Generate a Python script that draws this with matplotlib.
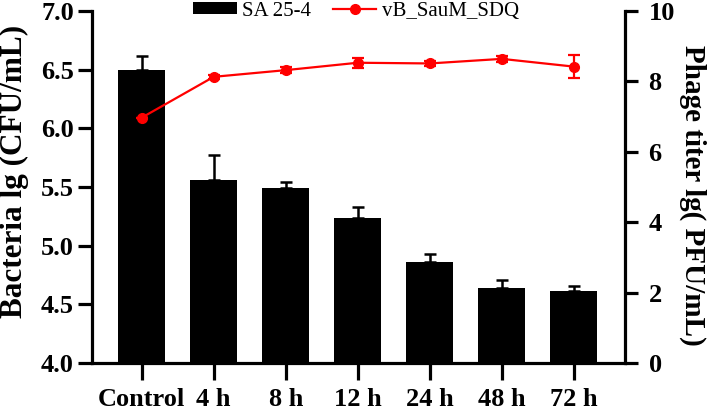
import matplotlib
matplotlib.use("Agg")
import matplotlib.pyplot as plt
from matplotlib.lines import Line2D
import numpy as np

categories = ["Control", "4 h", "8 h", "12 h", "24 h", "48 h", "72 h"]
bacteria = [6.50, 5.56, 5.49, 5.24, 4.86, 4.64, 4.61]
bacteria_err = [0.12, 0.21, 0.05, 0.09, 0.07, 0.07, 0.05]
phage = [6.97, 8.13, 8.32, 8.53, 8.51, 8.64, 8.42]
phage_err = [0.0, 0.05, 0.08, 0.14, 0.06, 0.08, 0.32]
left_ticks = [4.0, 4.5, 5.0, 5.5, 6.0, 6.5, 7.0]
right_ticks = [0, 2, 4, 6, 8, 10]

plt.rcParams['font.family'] = ['Liberation Serif', 'DejaVu Serif']

fig = plt.figure(figsize=(7.09, 4.11), dpi=100)
ax = fig.add_axes([92/709, 1-363/411, (625-92)/709, (363-11)/411])
x = np.arange(len(categories))

ax.bar(x, bacteria, width=0.65, color='black', label='SA 25-4', zorder=2)
ax.errorbar(x, bacteria, yerr=[np.zeros(len(x)), bacteria_err], fmt='none',
            ecolor='black', elinewidth=1.8, capsize=4, capthick=1.8, zorder=3)
ax.set_ylim(4.0, 7.0)
ax.set_xlim(-0.69, 6.71)
ax.set_yticks(left_ticks)
ax.set_yticklabels([f"{t:.1f}" for t in left_ticks])
ax.set_xticks(x)
ax.set_xticklabels(categories)

for s in ['top', 'right']:
    ax.spines[s].set_visible(False)
for s in ['left', 'bottom']:
    ax.spines[s].set_linewidth(2.3)

ax.tick_params(axis='y', length=10, width=2.3, pad=3, labelsize=19)
ax.tick_params(axis='x', length=12, width=2.3, pad=6, labelsize=19)
for lab in ax.get_xticklabels() + ax.get_yticklabels():
    lab.set_fontweight('bold')

ax.set_ylabel("Bacteria lg (CFU/mL)", fontsize=22.5, fontweight='bold')
ax.yaxis.set_label_coords(14/709, 1-171/411, transform=fig.transFigure)
ax.yaxis.label.set(ha='center', va='center', rotation_mode='anchor')

ax2 = ax.twinx()
ax2.errorbar(x, phage, yerr=phage_err, color='#ff0000', ecolor='#ff0000',
             lw=1.6, marker='o', markersize=7, elinewidth=1.6, capsize=4,
             capthick=1.6, zorder=4)
ax2.set_ylim(0, 10)
ax2.set_yticks(right_ticks)
for s in ['top', 'left', 'bottom']:
    ax2.spines[s].set_visible(False)
ax2.spines['right'].set_linewidth(2.3)
ax2.tick_params(axis='y', length=9, width=2.3, pad=8, labelsize=19)
for lab in ax2.get_yticklabels():
    lab.set_fontweight('bold')
ax2.set_ylabel("Phage titer lg( PFU/mL)", fontsize=21, fontweight='bold',
               rotation=270)
ax2.yaxis.set_label_coords(693/709, 1-195/411, transform=fig.transFigure)
ax2.yaxis.label.set(ha='center', va='center', rotation_mode='anchor')

h1, l1 = ax.get_legend_handles_labels()
phage_handle = Line2D([], [], color='#ff0000', lw=1.6, marker='o', markersize=7)
leg = ax2.legend(h1 + [phage_handle], l1 + ['vB_SauM_SDQ'], loc='center',
                 bbox_to_anchor=(0.495, 1.0), ncol=2, frameon=False,
                 fontsize=15, handlelength=2.1, handleheight=0.45,
                 handletextpad=0.25, columnspacing=1.05, borderpad=0.1)
leg.set_zorder(10)

fig.savefig("out.png", dpi=100)
